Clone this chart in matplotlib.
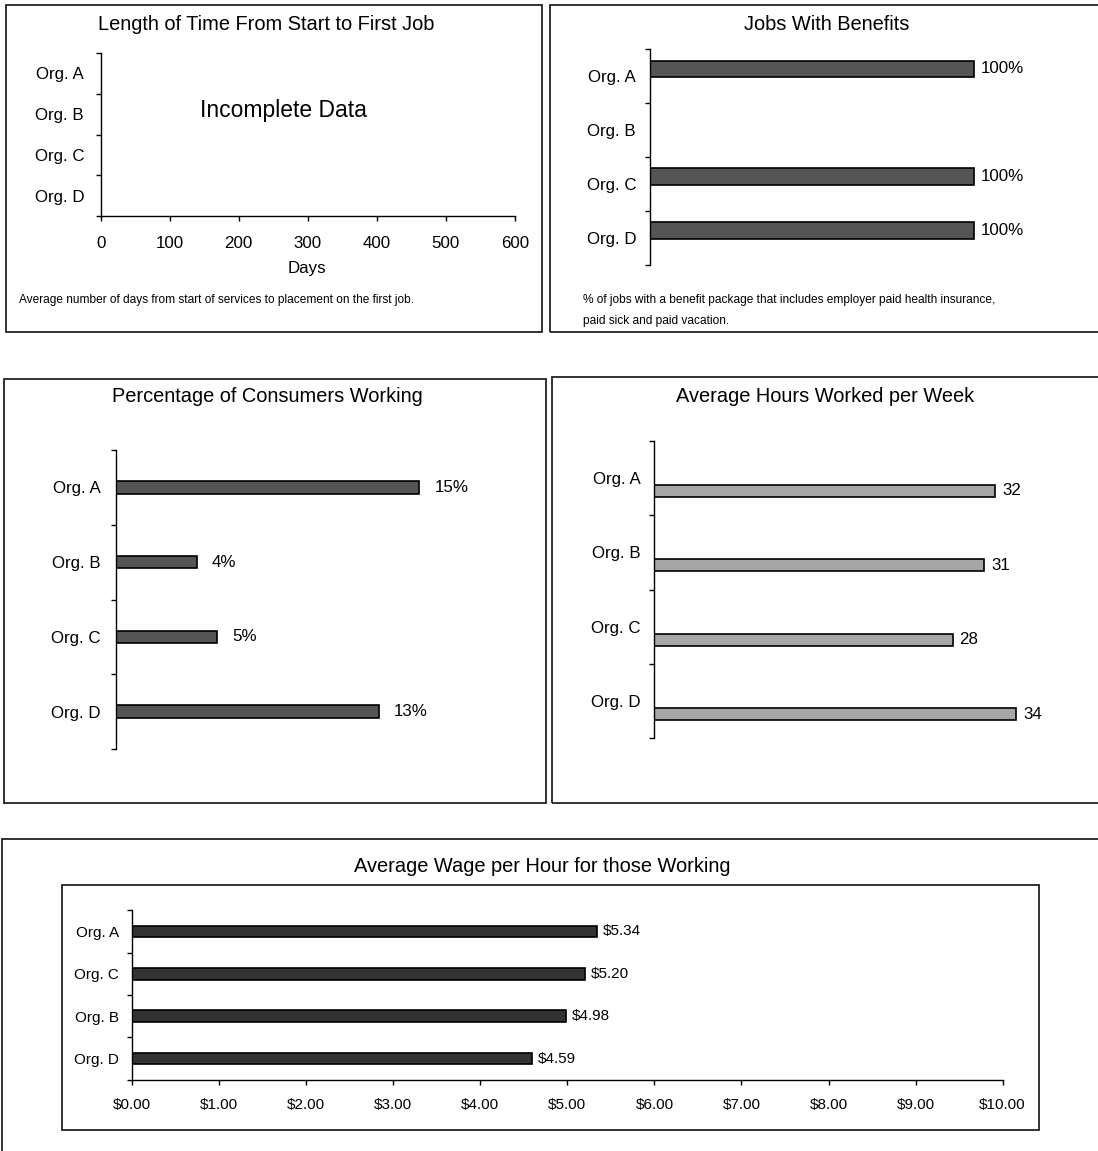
import matplotlib
matplotlib.use('Agg')
import numpy as np
import matplotlib.pyplot as plt
from matplotlib.patches import Rectangle

plt.rcParams['font.family'] = ['Liberation Sans', 'DejaVu Sans']

# data
orgs = ['Org. A', 'Org. B', 'Org. C', 'Org. D']
days_ticks = [0, 100, 200, 300, 400, 500, 600]
benefits_pct = [100, None, 100, 100]
working_pct = [15, 4, 5, 13]
hours_per_week = [32, 31, 28, 34]
wage_orgs = ['Org. A', 'Org. C', 'Org. B', 'Org. D']
wage_per_hour = [5.34, 5.20, 4.98, 4.59]
wage_ticks = [0, 1, 2, 3, 4, 5, 6, 7, 8, 9, 10]

W, H = 1098, 1151
fig = plt.figure(figsize=(W / 100, H / 100), dpi=100)

DARK = '#555555'
DARKER = '#333333'
LIGHT = '#a6a6a6'
TITLE_SIZE = 14.4


def add_ax(l, t, r, b):
    # pixel box -> figure axes
    return fig.add_axes([l / W, 1 - b / H, (r - l) / W, (b - t) / H])


def box(l, t, r, b, lw=1.3):
    fig.add_artist(Rectangle((l / W, 1 - b / H), (r - l) / W, (b - t) / H,
                             transform=fig.transFigure, fill=False,
                             ec='#222222', lw=lw))


def ftext(x, y, s, size=12, ha='center'):
    fig.text(x / W, 1 - y / H, s, fontsize=size, ha=ha, va='center_baseline')


def cat_axis(ax, labels, pad, size=12):
    n = len(labels)
    ax.set_ylim(0, n)
    centers = n - 0.5 - np.arange(n)
    ax.set_yticks(centers)
    ax.set_yticklabels(labels)
    ax.set_yticks(np.arange(n + 1), minor=True)
    ax.tick_params(axis='y', which='major', length=0, pad=pad, labelsize=size)
    ax.tick_params(axis='y', which='minor', length=3.6, width=1, direction='out')
    ax.spines['top'].set_visible(False)
    ax.spines['right'].set_visible(False)
    ax.spines['left'].set_linewidth(1)
    ax.spines['bottom'].set_linewidth(1)
    ax.patch.set_alpha(0)
    return centers


# panel frames
box(6, 5, 542, 332)
box(550, 5, 1110, 332)
box(4, 379, 546, 803)
box(552, 377, 1110, 803)
box(2, 839, 1110, 1170)
box(62, 885, 1039, 1130)

# 1. Length of time to first job
ax1 = add_ax(100.7, 53, 514.7, 216)
cat_axis(ax1, orgs, pad=12, size=12.2)
ax1.set_xlim(0, 600)
ax1.set_xticks(days_ticks)
ax1.tick_params(axis='x', length=3.6, width=1, pad=11, labelsize=12.2)
ftext(266, 22, 'Length of Time From Start to First Job', size=TITLE_SIZE)
ftext(307, 267, 'Days', size=12.2)
ftext(283, 108, 'Incomplete Data', size=16.5)
ftext(19, 298, 'Average number of days from start of services to placement on the first job.',
      size=8.6, ha='left')

# 2. Jobs with benefits
ax2 = add_ax(650, 49.3, 650 + 324 * 1.2, 265)
c2 = cat_axis(ax2, orgs, pad=10, size=12.2)
ax2.set_xlim(0, 120)
ax2.spines['bottom'].set_visible(False)
ax2.set_xticks([])
for y, v in zip(c2, benefits_pct):
    if v is None:
        continue
    ax2.barh(y + 0.14, v, height=0.30, color=DARK, edgecolor='black', lw=1.2)
    ax2.annotate(f'{v}%', (v, y + 0.14), xytext=(5, 0), textcoords='offset points',
                 va='center', fontsize=12.2)
ftext(827, 22, 'Jobs With Benefits', size=TITLE_SIZE)
ftext(583, 298, '% of jobs with a benefit package that includes employer paid health insurance,',
      size=8.6, ha='left')
ftext(583, 319, 'paid sick and paid vacation.', size=8.6, ha='left')

# 3. Percentage of consumers working
ax3 = add_ax(115.7, 450, 115.7 + 20.23 * 20, 749)
c3 = cat_axis(ax3, orgs, pad=11, size=12.2)
ax3.set_xlim(0, 20)
ax3.spines['bottom'].set_visible(False)
ax3.set_xticks([])
ax3.barh(c3, working_pct, height=0.17, color=DARK, edgecolor='black', lw=1.2)
for y, v in zip(c3, working_pct):
    ax3.annotate(f'{v}%', (v, y), xytext=(11, 0), textcoords='offset points',
                 va='center', fontsize=12.2)
ftext(267, 394, 'Percentage of Consumers Working', size=TITLE_SIZE)

# 4. Average hours worked per week
ax4 = add_ax(654.3, 440.7, 654.3 + 10.65 * 40, 738.3)
c4 = cat_axis(ax4, orgs, pad=10, size=12.2)
ax4.set_xlim(0, 40)
ax4.spines['bottom'].set_visible(False)
ax4.set_xticks([])
ax4.barh(c4 - 0.175, hours_per_week, height=0.157, color=LIGHT, edgecolor='black', lw=1.2)
for y, v in zip(c4, hours_per_week):
    ax4.annotate(f'{v}', (v, y - 0.175), xytext=(5, 0), textcoords='offset points',
                 va='center', fontsize=12.2)
ftext(825, 394, 'Average Hours Worked per Week', size=TITLE_SIZE)

# 5. Average wage per hour
ax5 = add_ax(132.2, 910.3, 1002.6, 1079.7)
c5 = cat_axis(ax5, wage_orgs, pad=9.5, size=11)
ax5.set_xlim(0, 10)
ax5.set_xticks(wage_ticks)
ax5.set_xticklabels([f'${t:.2f}' for t in wage_ticks])
ax5.tick_params(axis='x', length=3.6, width=1, pad=9.5, labelsize=11)
ax5.barh(c5, wage_per_hour, height=0.276, color=DARKER, edgecolor='black', lw=1.2)
for y, v in zip(c5, wage_per_hour):
    ax5.annotate(f'${v:.2f}', (v, y), xytext=(4.5, 0), textcoords='offset points',
                 va='center', fontsize=11)
ftext(542, 865, 'Average Wage per Hour for those Working', size=TITLE_SIZE)

fig.savefig('out.png', dpi=100)
